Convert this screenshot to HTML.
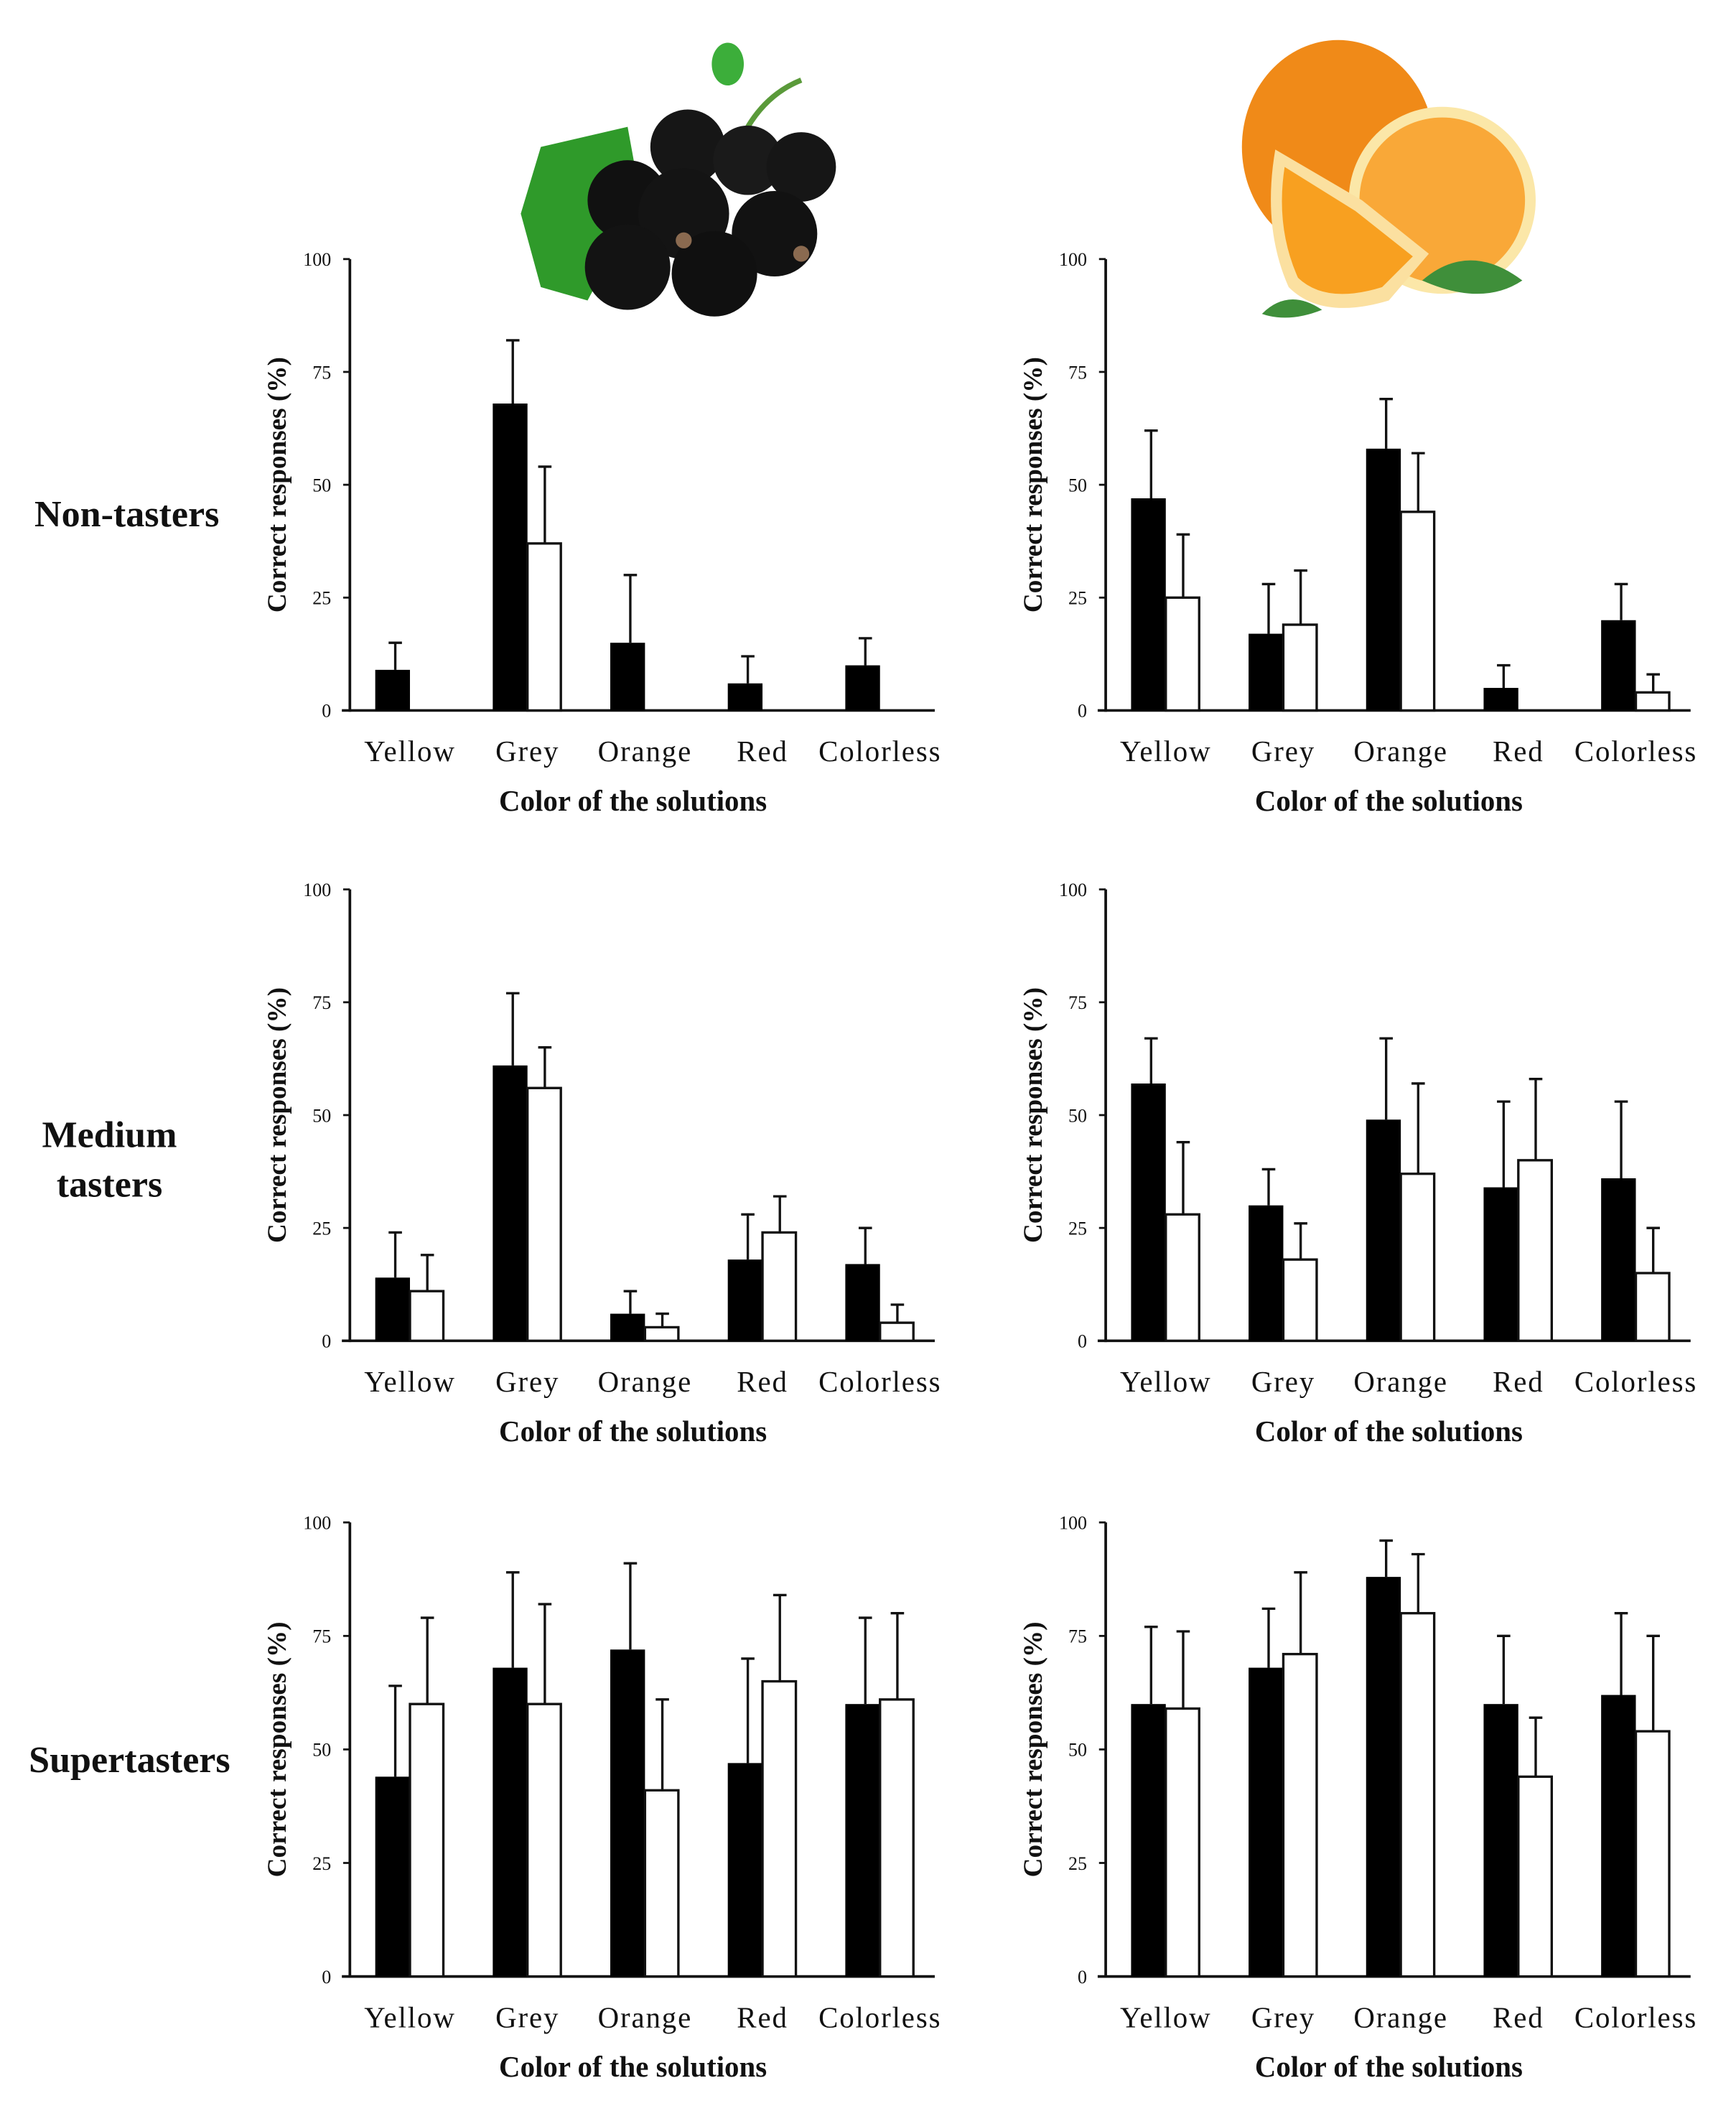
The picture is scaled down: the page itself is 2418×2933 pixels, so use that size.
<!DOCTYPE html>
<html><head><meta charset="utf-8"><style>
html,body{margin:0;padding:0;background:#fff;}
svg{display:block;}
text{font-family:"Liberation Serif",serif;fill:#111;}
</style></head><body>
<svg id="fig" width="2418" height="2933" viewBox="0 0 1300 1577" preserveAspectRatio="none" xmlns="http://www.w3.org/2000/svg">
<g>
  <path d="M560 95 Q575 70 600 60" stroke="#5a9a3a" stroke-width="4" fill="none"/>
  <ellipse cx="545" cy="48" rx="12" ry="16" fill="#3cae3a"/>
  <path d="M405 110 L470 95 L480 150 L440 225 L405 215 L390 160 Z" fill="#2f9a2a"/>
  <circle cx="515" cy="110" r="28" fill="#161616"/>
  <circle cx="560" cy="120" r="26" fill="#1a1a1a"/>
  <circle cx="600" cy="125" r="26" fill="#161616"/>
  <circle cx="470" cy="150" r="30" fill="#111"/>
  <circle cx="512" cy="160" r="34" fill="#141414"/>
  <circle cx="580" cy="175" r="32" fill="#121212"/>
  <circle cx="470" cy="200" r="32" fill="#131313"/>
  <circle cx="535" cy="205" r="32" fill="#101010"/>
  <circle cx="512" cy="180" r="6" fill="#8a6a50"/>
  <circle cx="600" cy="190" r="6" fill="#8a6a50"/>
</g>
<g>
  <ellipse cx="1002" cy="110" rx="72" ry="80" fill="#f08a18"/>
  <circle cx="1080" cy="150" r="70" fill="#fbe7a8"/>
  <circle cx="1080" cy="150" r="62" fill="#f9a838"/>
  <path d="M955 112 L1020 150 L1070 190 L1040 225 Q990 240 965 215 Q945 170 955 112 Z" fill="#fbe0a0"/>
  <path d="M962 125 L1015 158 L1058 192 L1035 215 Q993 228 972 208 Q955 170 962 125 Z" fill="#f8a020"/>
  <path d="M1065 210 Q1100 180 1140 210 Q1110 230 1065 210 Z" fill="#3f8f3a"/>
  <path d="M945 235 Q965 215 990 232 Q965 242 945 235 Z" fill="#3f8f3a"/>
</g>
<text x="95" y="394" text-anchor="middle" font-size="28" font-weight="bold">Non-tasters</text>
<text x="82" y="859" text-anchor="middle" font-size="28" font-weight="bold">Medium</text>
<text x="82" y="896" text-anchor="middle" font-size="28" font-weight="bold">tasters</text>
<text x="97" y="1327" text-anchor="middle" font-size="28" font-weight="bold">Supertasters</text>
</svg>
<script>
const categories = ["Yellow","Grey","Orange","Red","Colorless"];
const yTicks = [0,25,50,75,100];
const ntCurrantBlack = [9,68,15,6,10];
const ntCurrantWhite = [0,37,0,0,0];
const ntCurrantBlackErr = [15,82,30,12,16];
const ntCurrantWhiteErr = [0,54,0,0,0];
const ntOrangeBlack = [47,17,58,5,20];
const ntOrangeWhite = [25,19,44,0,4];
const ntOrangeBlackErr = [62,28,69,10,28];
const ntOrangeWhiteErr = [39,31,57,0,8];
const mtCurrantBlack = [14,61,6,18,17];
const mtCurrantWhite = [11,56,3,24,4];
const mtCurrantBlackErr = [24,77,11,28,25];
const mtCurrantWhiteErr = [19,65,6,32,8];
const mtOrangeBlack = [57,30,49,34,36];
const mtOrangeWhite = [28,18,37,40,15];
const mtOrangeBlackErr = [67,38,67,53,53];
const mtOrangeWhiteErr = [44,26,57,58,25];
const stCurrantBlack = [44,68,72,47,60];
const stCurrantWhite = [60,60,41,65,61];
const stCurrantBlackErr = [64,89,91,70,79];
const stCurrantWhiteErr = [79,82,61,84,80];
const stOrangeBlack = [60,68,88,60,62];
const stOrangeWhite = [59,71,80,44,54];
const stOrangeBlackErr = [77,81,96,75,80];
const stOrangeWhiteErr = [76,89,93,57,75];

const NS="http://www.w3.org/2000/svg";
const svg=document.getElementById('fig');
function mk(tag,attrs,parent){const e=document.createElementNS(NS,tag);for(const k in attrs)e.setAttribute(k,attrs[k]);(parent||svg).appendChild(e);return e;}

const panels=[
 {id:'non-tasters-blackcurrant',ax:262,y100:194,y0:532,b:ntCurrantBlack,w:ntCurrantWhite,be:ntCurrantBlackErr,we:ntCurrantWhiteErr},
 {id:'non-tasters-orange',ax:828,y100:194,y0:532,b:ntOrangeBlack,w:ntOrangeWhite,be:ntOrangeBlackErr,we:ntOrangeWhiteErr},
 {id:'medium-tasters-blackcurrant',ax:262,y100:666,y0:1004,b:mtCurrantBlack,w:mtCurrantWhite,be:mtCurrantBlackErr,we:mtCurrantWhiteErr},
 {id:'medium-tasters-orange',ax:828,y100:666,y0:1004,b:mtOrangeBlack,w:mtOrangeWhite,be:mtOrangeBlackErr,we:mtOrangeWhiteErr},
 {id:'supertasters-blackcurrant',ax:262,y100:1140,y0:1480,b:stCurrantBlack,w:stCurrantWhite,be:stCurrantBlackErr,we:stCurrantWhiteErr},
 {id:'supertasters-orange',ax:828,y100:1140,y0:1480,b:stOrangeBlack,w:stOrangeWhite,be:stOrangeBlackErr,we:stOrangeWhiteErr}
];
panels.forEach(p=>{
  const g=mk('g',{});
  
  
  const ys=v=>p.y0-(p.y0-p.y100)*v/100;
  const xs=i=>p.ax+19+i*88;
  const bw=26;
  const yl=mk('line',{x1:p.ax,y1:p.y100,x2:p.ax,y2:p.y0+1,stroke:'#111','stroke-width':2},g);
  
  
  const xl=mk('line',{x1:p.ax-6,y1:p.y0,x2:p.ax+438,y2:p.y0,stroke:'#111','stroke-width':2},g);
  
  
  yTicks.forEach(t=>{
    mk('line',{x1:p.ax-5,y1:ys(t),x2:p.ax,y2:ys(t),stroke:'#111','stroke-width':1.5},g);
    const tx=mk('text',{x:p.ax-14,y:ys(t)+5,'text-anchor':'end','font-size':14},g);
    tx.textContent=t;
    
    
  });
  const yt=mk('text',{x:0,y:0,'text-anchor':'middle','font-size':20,'font-weight':'bold',transform:`translate(${p.ax-48},${(p.y0+p.y100)/2}) rotate(-90)`},g);
  yt.textContent='Correct responses (%)';
  
  
  const xt=mk('text',{x:p.ax+212,y:p.y0+75,'text-anchor':'middle','font-size':22,'font-weight':'bold'},g);
  xt.textContent='Color of the solutions';
  
  
  categories.forEach((c,i)=>{
    const x=xs(i);
    const lab=mk('text',{x:x+bw,y:p.y0+38,'text-anchor':'middle','font-size':22,'letter-spacing':'1',fill:'#333'},g);
    lab.textContent=c;
    
    
    if(p.b[i]>0){
      const eb=mk('line',{x1:x+bw/2+2,y1:ys(p.b[i]),x2:x+bw/2+2,y2:ys(p.be[i]),stroke:'#111','stroke-width':1.8},g);
      mk('line',{x1:x+bw/2-3,y1:ys(p.be[i]),x2:x+bw/2+7,y2:ys(p.be[i]),stroke:'#111','stroke-width':1.8},g);
      
      
      const r=mk('rect',{x:x,y:ys(p.b[i]),width:bw,height:p.y0-ys(p.b[i]),fill:'#000'},g);
      
      
    }
    if(p.w[i]>0){
      const wx=x+bw;
      const eb=mk('line',{x1:wx+bw/2,y1:ys(p.w[i]),x2:wx+bw/2,y2:ys(p.we[i]),stroke:'#111','stroke-width':1.8},g);
      mk('line',{x1:wx+bw/2-5,y1:ys(p.we[i]),x2:wx+bw/2+5,y2:ys(p.we[i]),stroke:'#111','stroke-width':1.8},g);
      
      
      const r=mk('rect',{x:wx,y:ys(p.w[i]),width:bw-1,height:p.y0-ys(p.w[i]),fill:'#fff',stroke:'#111','stroke-width':1.8},g);
      
      
    }
  });
});
</script>
</body></html>
